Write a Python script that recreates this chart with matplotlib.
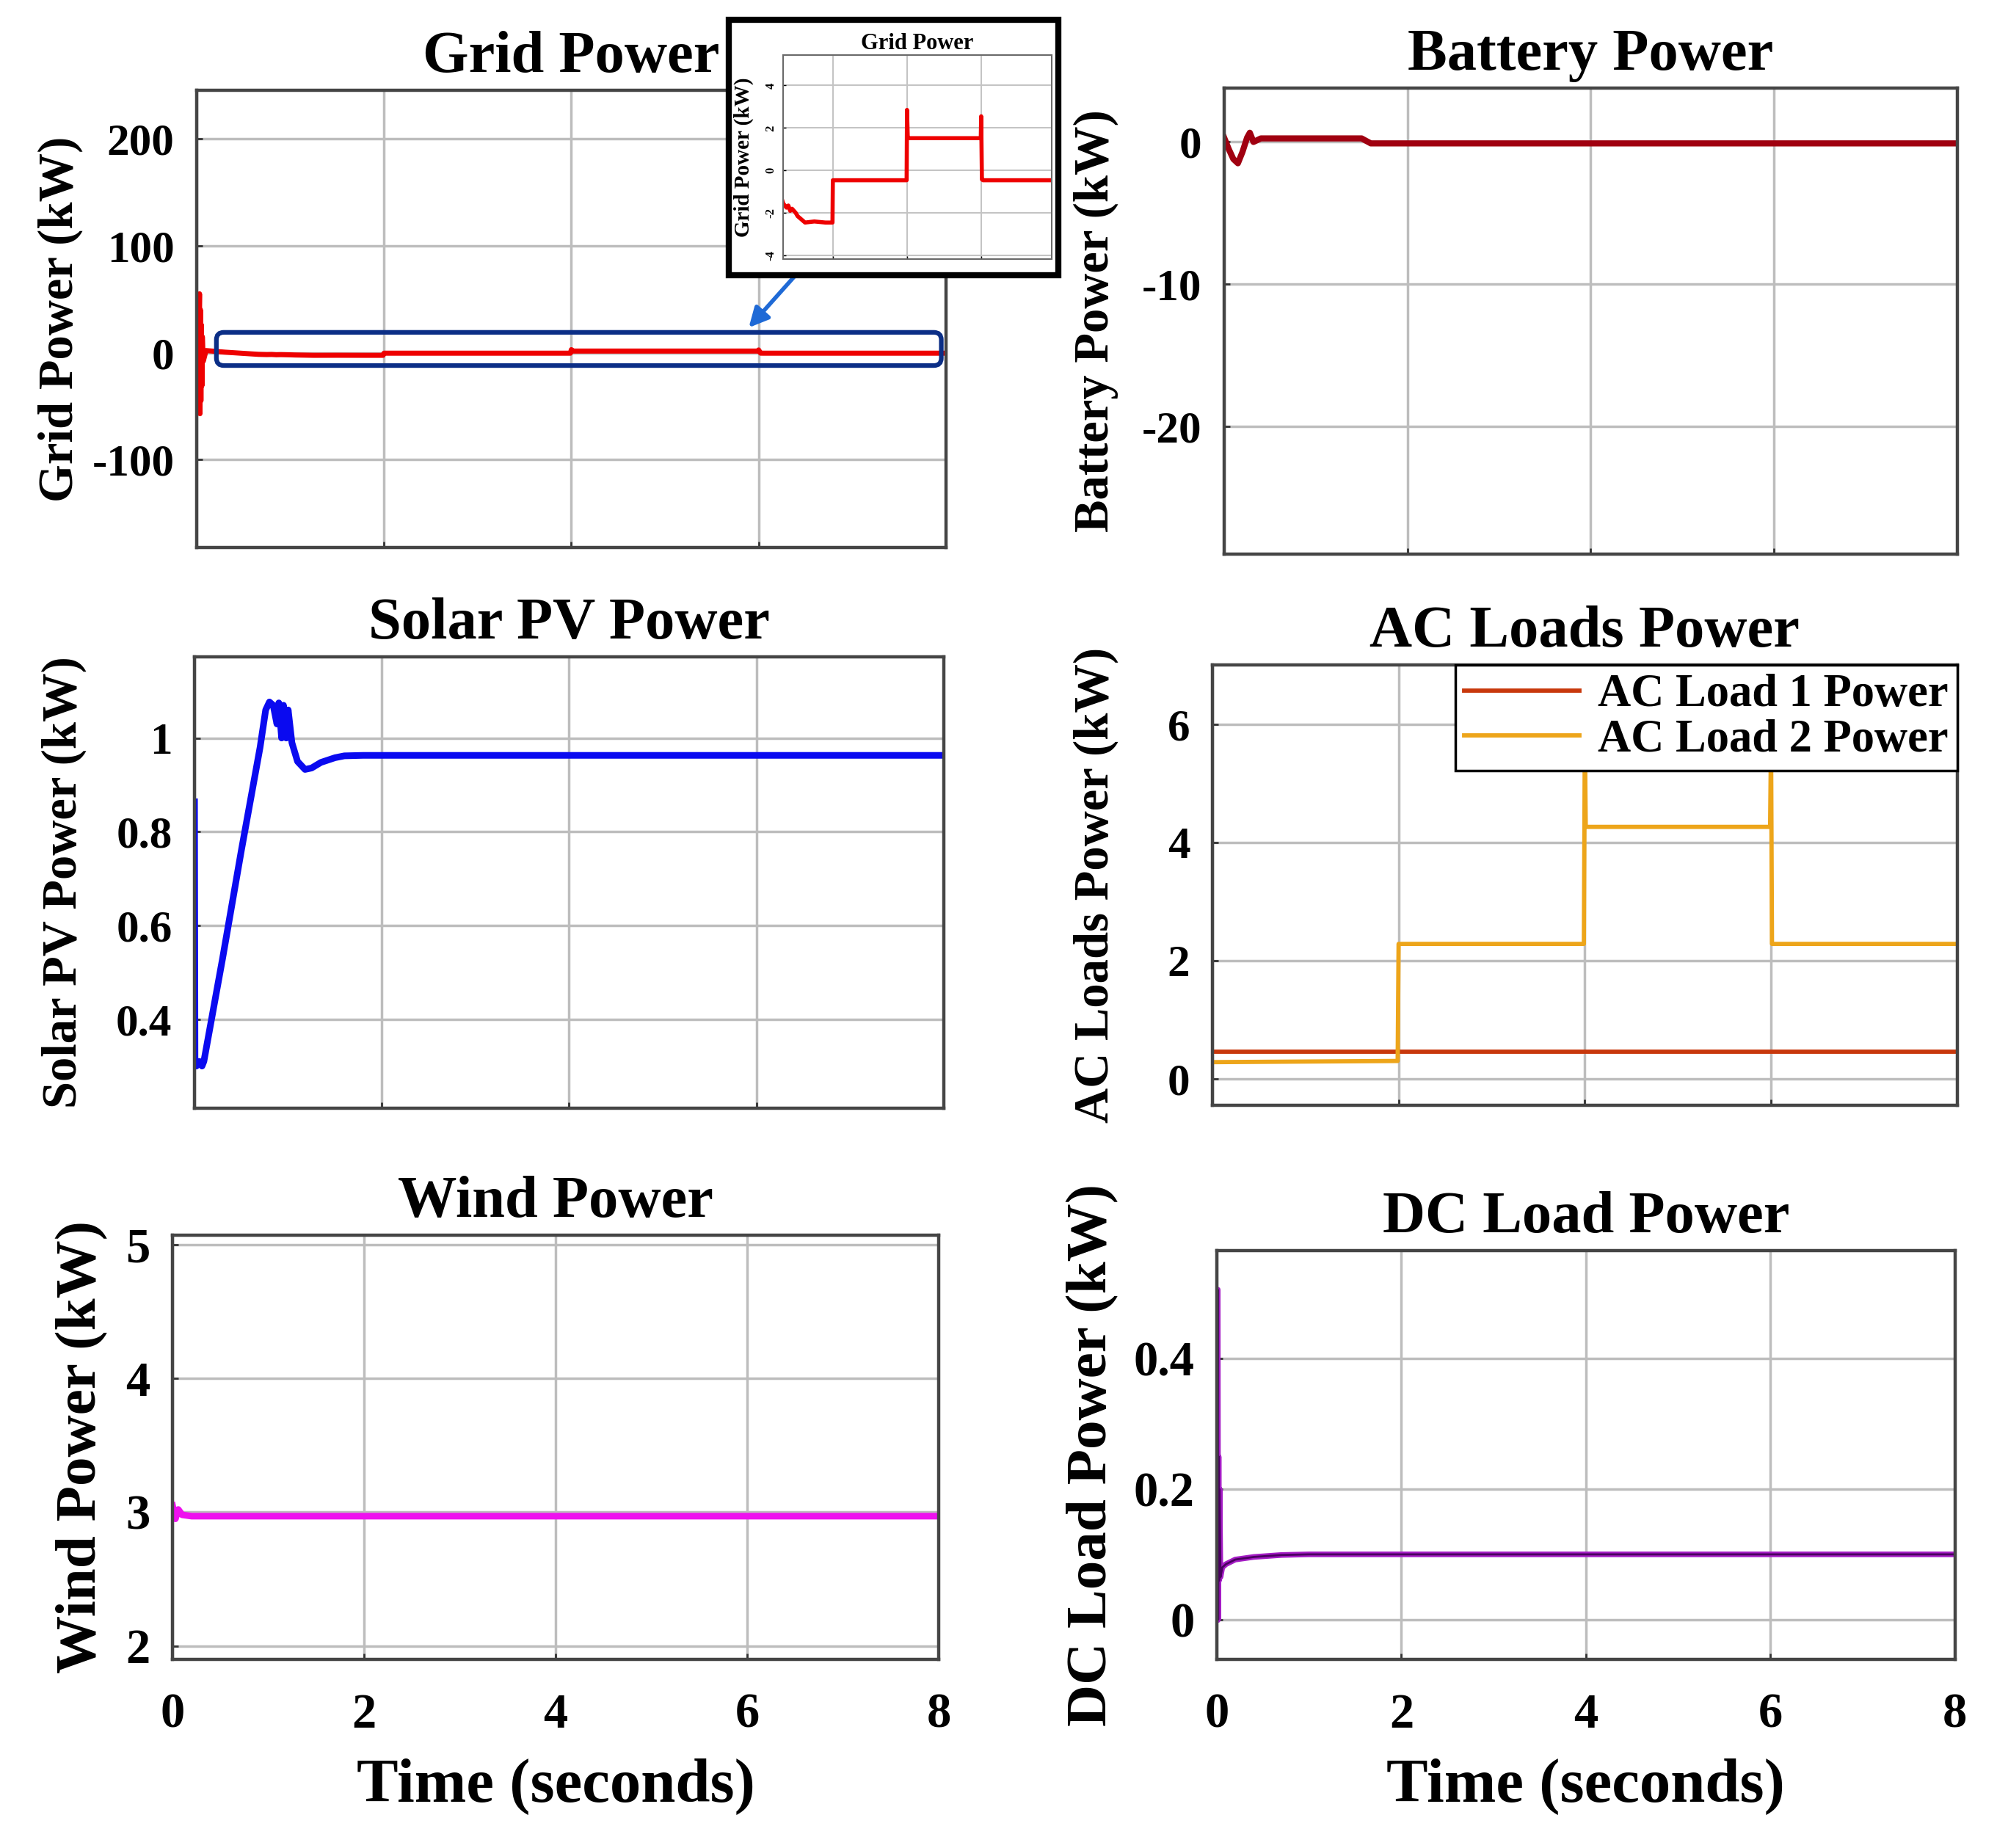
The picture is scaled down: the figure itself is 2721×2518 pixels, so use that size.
import numpy as np
import matplotlib.pyplot as plt
import matplotlib.patches as mpatches

plt.rcParams['font.family'] = ['Liberation Serif', 'DejaVu Serif']
plt.rcParams['font.weight'] = 'bold'
plt.rcParams['axes.unicode_minus'] = False

## data (time in s, power in kW)
grid_t = [0, 0.02, 0.03, 0.035, 0.04, 0.045, 0.05, 0.055, 0.06, 0.07, 0.1, 0.3,
          0.66, 0.75, 0.8, 0.85, 0.9, 1.0, 1.05, 1.15, 1.25, 1.5, 1.8, 1.99,
          2.0, 3.99, 4.0, 4.02, 4.05, 5.99, 6.0, 6.02, 6.05, 8.0]
grid_p = [0, 5, 55, -57, 40, -45, 26, -31, 15, -8, 2, 0.5,
          -1.55, -1.75, -1.65, -1.9, -1.8, -2.0, -2.15, -2.3, -2.45, -2.4, -2.45, -2.45,
          -0.46, -0.46, 2.85, 1.55, 1.52, 1.52, 2.55, -0.42, -0.46, -0.46]

bat_t = [0, 0.05, 0.1, 0.15, 0.2, 0.25, 0.28, 0.32, 0.4, 0.8, 1.5, 1.6, 8]
bat_p = [0.3, -0.5, -1.2, -1.5, -0.7, 0.3, 0.65, 0.0, 0.25, 0.25, 0.25, -0.1, -0.1]

sol_t = [0, 0.005, 0.02, 0.05, 0.08, 0.1, 0.3, 0.5, 0.7, 0.76, 0.8, 0.84, 0.88,
         0.9, 0.93, 0.95, 0.98, 1.0, 1.04, 1.1, 1.18, 1.25, 1.35, 1.5, 1.6, 1.8, 8]
sol_p = [0.864, 0.31, 0.30, 0.31, 0.30, 0.31, 0.53, 0.76, 0.98, 1.06, 1.077, 1.07, 1.03,
         1.075, 1.0, 1.07, 1.0, 1.06, 0.99, 0.95, 0.933, 0.936, 0.948, 0.958, 0.962, 0.963, 0.963]

ac_t = [0, 1.99, 2.0, 3.99, 4.0, 4.01, 5.99, 6.0, 6.01, 8]
ac1_p = [0.46, 0.46, 0.46, 0.46, 0.46, 0.46, 0.46, 0.46, 0.46, 0.46]
ac2_p = [0.28, 0.30, 2.28, 2.28, 5.8, 4.26, 4.26, 5.8, 2.28, 2.28]

wind_t = [0, 0.03, 0.06, 0.1, 0.2, 8]
wind_p = [3.05, 2.95, 3.02, 2.98, 2.97, 2.97]

dc_t = [0, 0.01, 0.015, 0.02, 0.025, 0.03, 0.04, 0.06, 0.1, 0.2, 0.4, 0.7, 1.0, 8]
dc_p = [0.0, 0.506, 0.0, 0.25, 0.06, 0.2, 0.065, 0.08, 0.085, 0.092, 0.096, 0.099, 0.1, 0.1]

x_ticks = [0, 2, 4, 6, 8]
# highlight box around the zoomed region (data coords)
box_x = [0.21, 7.95]
box_y = [-12, 19]


def style(ax, ylim, yticks, yticklabels, title, ylabel, label_x,
          fs_tick=44, fs_ylabel=48, bottom=False):
    ax.set_xlim(0, 8)
    ax.set_ylim(ylim)
    ax.set_xticks(x_ticks)
    ax.set_yticks(yticks)
    ax.set_yticklabels(yticklabels)
    ax.grid(True, color='#bdbdbd', lw=2.5)
    ax.set_axisbelow(True)
    for s in ax.spines.values():
        s.set_color('#454545')
        s.set_linewidth(3.2)
    ax.tick_params(direction='in', length=6, width=2, color='#333333',
                   labelsize=fs_tick)
    ax.tick_params(axis='y', pad=22)
    ax.tick_params(axis='x', pad=33)
    ax.set_title(title, fontsize=58, fontweight='bold', pad=18)
    ax.set_ylabel(ylabel, fontsize=fs_ylabel, fontweight='bold')
    ax.yaxis.set_label_coords(label_x, 0.5)
    if bottom:
        ax.set_xticklabels([str(v) for v in x_ticks])
        ax.set_xlabel('Time (seconds)', fontsize=61, fontweight='bold', labelpad=20)
    else:
        ax.set_xticklabels([])


fig = plt.figure(figsize=(27.21, 25.18), dpi=100)

ax1 = fig.add_axes([0.0985, 0.7037, 0.3752, 0.2474])
ax2 = fig.add_axes([0.6130, 0.7002, 0.3671, 0.2522])
ax3 = fig.add_axes([0.0974, 0.4003, 0.3752, 0.2442])
ax4 = fig.add_axes([0.6071, 0.4019, 0.3730, 0.2383])
ax5 = fig.add_axes([0.0864, 0.1021, 0.3837, 0.2295])
ax6 = fig.add_axes([0.6093, 0.1021, 0.3697, 0.2212])

# Grid power
ax1.plot(grid_t, grid_p, color='#ee0000', lw=5)
style(ax1, (-182, 245), [-100, 0, 100, 200], ['-100', '0', '100', '200'],
      'Grid Power', 'Grid Power (kW)', -0.152)
box = mpatches.FancyBboxPatch((box_x[0], box_y[0]), box_x[1] - box_x[0], box_y[1] - box_y[0],
                              boxstyle='round,pad=0,rounding_size=0.08',
                              mutation_aspect=87, fill=False,
                              edgecolor='#0b2e86', lw=4.5, zorder=4)
ax1.add_patch(box)
ax1.annotate('', xy=(5.88, 22), xytext=(6.39, 72),
             arrowprops=dict(arrowstyle='-|>,head_length=1.6,head_width=0.8',
                             color='#1f6ad6', lw=4))

# Battery power
ax2.plot(bat_t, bat_p, color='#a00010', lw=6)
style(ax2, (-29.0, 3.8), [-20, -10, 0], ['-20', '-10', '0'],
      'Battery Power', 'Battery Power (kW)', -0.144)

# Solar PV power
ax3.plot(sol_t, sol_p, color='#0a0af0', lw=6.5)
style(ax3, (0.21, 1.173), [0.4, 0.6, 0.8, 1.0], ['0.4', '0.6', '0.8', '1'],
      'Solar PV Power', 'Solar PV Power (kW)', -0.144)

# AC loads
ax4.plot(ac_t, ac1_p, color='#c8380c', lw=4.2, label='AC Load 1 Power')
ax4.plot(ac_t, ac2_p, color='#eda51a', lw=4.2, label='AC Load 2 Power')
style(ax4, (-0.45, 7.0), [0, 2, 4, 6], ['0', '2', '4', '6'],
      'AC Loads Power', 'AC Loads Power (kW)', -0.126)
leg = ax4.legend(loc='upper right', fontsize=45, frameon=True, fancybox=False,
                 borderaxespad=0, borderpad=0.2, labelspacing=0.05,
                 handlelength=2.5, handletextpad=0.4)
leg.get_frame().set_edgecolor('black')
leg.get_frame().set_linewidth(2.5)
leg.get_frame().set_alpha(1)

# Wind power
ax5.plot(wind_t, wind_p, color='#ee10ee', lw=6.5)
style(ax5, (1.90, 5.07), [2, 3, 4, 5], ['2', '3', '4', '5'],
      'Wind Power', 'Wind Power (kW)', -0.084, fs_tick=48, fs_ylabel=57, bottom=True)

# DC load power
ax6.plot(dc_t, dc_p, color='#a41cc4', lw=5.5)
ax6.plot(dc_t, dc_p, color='#4a0060', lw=2)
style(ax6, (-0.061, 0.566), [0, 0.2, 0.4], ['0', '0.2', '0.4'],
      'DC Load Power', 'DC Load Power (kW)', -0.133, fs_tick=48, fs_ylabel=57, bottom=True)

# inset frame and zoomed grid power
frame = mpatches.Rectangle((0.3649, 0.8511), 0.1650, 0.1382, transform=fig.transFigure,
                           facecolor='white', edgecolor='black', lw=6, zorder=2)
fig.patches.append(frame)

axi = fig.add_axes([0.3921, 0.8598, 0.1345, 0.1104], zorder=3)
axi.plot(grid_t, grid_p, color='#ee0000', lw=4)
axi.set_xlim(0.656, 7.9)
axi.set_ylim(-4.17, 5.43)
axi.set_xticks([2, 4, 6])
axi.set_xticklabels([])
axi.set_yticks([-4, -2, 0, 2, 4])
axi.set_yticklabels(['-4', '-2', '0', '2', '4'], rotation=90, va='center')
axi.grid(True, color='#c4c4c4', lw=1.5)
for s in axi.spines.values():
    s.set_color('#6a6a6a')
    s.set_linewidth(1.5)
axi.tick_params(direction='in', length=3, width=1, labelsize=12, pad=6)
axi.set_title('Grid Power', fontsize=22, fontweight='bold', pad=6)
axi.set_ylabel('Grid Power (kW)', fontsize=21, fontweight='bold')
axi.yaxis.set_label_coords(-0.109, 0.5)

plt.savefig('out.png', dpi=100)
